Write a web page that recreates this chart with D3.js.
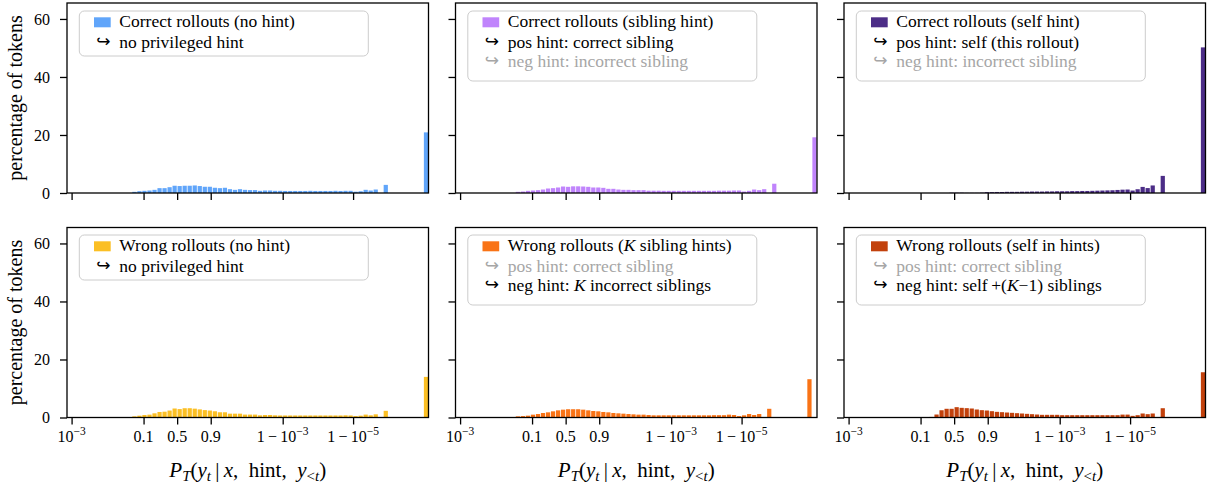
<!DOCTYPE html>
<html>
<head>
<meta charset="utf-8">
<script src="https://cdn.jsdelivr.net/npm/d3@7"></script>
<style>
  body { margin: 0; background: #fff; }
  text, tspan { font-family: "Liberation Serif", "Times New Roman", serif; }
</style>
</head>
<body>
<div id="chart"></div>
<script>
// histogram bins are uniform in logit10(p): first edge at -3, width 1/7
var binStart = -3;
var binWidth = 1 / 7;

// percentage of tokens per bin (71 bins)
var correctNoHint = [0,0,0,0,0,0,0,0,0,0,0,0,
  0.4,0.63,0.75,0.86,1.09,1.67,1.67,2.0,2.5,2.4,2.5,2.5,2.6,2.4,2.15,2.15,1.8,1.67,1.8,1.32,1.09,1.32,1.09,1.0,1.0,
  0.75,0.86,0.86,0.75,0.75,0.7,0.7,0.7,0.7,0.7,0.75,0.7,0.7,0.7,0.7,0.75,0.7,0.75,0.75,
  0.45,0.6,1.1,0.85,1.2,0,2.8,0,0,0,0,0,0,0,20.9];
var correctSiblingHint = [0,0,0,0,0,0,0,0,0,0,0,
  0.4,0.5,0.75,0.86,0.98,1.2,1.55,1.67,1.9,2.24,2.13,2.3,2.3,2.24,2.13,1.9,1.9,1.78,1.44,1.44,1.2,1.09,1.09,0.98,0.98,0.98,
  0.8,0.8,0.8,0.75,0.75,0.75,0.75,0.75,0.75,0.75,0.75,0.75,0.75,0.75,0.8,0.8,0.8,0.86,0.86,
  0.5,0.75,1.2,0.98,1.32,0,3.2,0,0,0,0,0,0,0,19.2];
var correctSelfHint = [0,0,0,0,0,0,0,0,0,0,0,0,0,0,0,0,0,0,0,0,
  0.1,0.1,0.1,0.05,0.05,0.05,0.1,0.3,0.3,0.35,0.35,0.4,0.4,0.4,0.45,0.45,0.5,0.5,0.5,0.55,0.55,
  0.6,0.6,0.6,0.65,0.65,0.7,0.7,0.75,0.8,0.85,0.9,0.95,1.05,1.15,1.2,
  0.85,1.3,2.1,1.7,2.6,0,5.9,0,0,0,0,0,0,0,50.2];
var wrongNoHint = [0,0,0,0,0,0,0,0,0,0,0,0,
  0.4,0.63,0.86,0.98,1.44,1.9,2.0,2.4,3.1,2.9,3.2,3.2,3.05,2.8,2.55,2.4,2.15,1.8,1.8,1.32,1.32,1.32,1.0,1.0,1.0,
  0.75,0.86,0.86,0.75,0.7,0.7,0.7,0.7,0.7,0.7,0.7,0.7,0.7,0.7,0.7,0.7,0.7,0.75,0.7,
  0.5,0.63,1.0,0.75,1.1,0,2.3,0,0,0,0,0,0,0,14.0];
var wrongSiblingHints = [0,0,0,0,0,0,0,0,0,0,0,
  0.4,0.5,0.63,0.98,1.2,1.55,1.78,2.13,2.47,2.7,2.85,2.85,2.85,2.7,2.47,2.24,2.13,1.9,1.78,1.55,1.44,1.32,1.2,1.09,0.98,0.98,
  0.86,0.75,0.75,0.75,0.75,0.75,0.75,0.75,0.75,0.75,0.75,0.75,0.75,0.8,0.8,0.8,0.98,0.86,
  0.5,0.75,1.2,0.86,1.2,0,3.0,0,0,0,0,0,0,0,13.2];
var wrongSelfInHints = [0,0,0,0,0,0,0,0,0,0,0,0,0,0,0,0,
  0.2,1.03,2.5,3.0,3.0,3.56,3.33,3.22,3.1,2.76,2.53,2.41,2.18,1.95,1.84,1.72,1.61,1.49,1.38,1.26,1.15,1.03,
  0.92,0.92,0.92,0.92,0.8,0.8,0.8,0.8,0.8,0.8,0.8,0.8,0.8,0.8,0.8,0.8,1.0,1.0,
  0.57,0.8,1.38,1.15,1.38,0,3.2,0,0,0,0,0,0,0,15.6];

var seriesValues = [correctNoHint, correctSiblingHint, correctSelfHint,
                    wrongNoHint, wrongSiblingHints, wrongSelfInHints];
var seriesColors = ["#60a5fa", "#c084fc", "#4c2d87", "#fbbf24", "#f97316", "#c2410c"];
var legendTitles = [
  "Correct rollouts (no hint)", "Correct rollouts (sibling hint)", "Correct rollouts (self hint)",
  "Wrong rollouts (no hint)", "Wrong rollouts ($K$ sibling hints)", "Wrong rollouts (self in hints)"
];
// [text, active]; inactive hints are drawn in grey
var legendHints = [
  [["no privileged hint", true]],
  [["pos hint: correct sibling", true], ["neg hint: incorrect sibling", false]],
  [["pos hint: self (this rollout)", true], ["neg hint: incorrect sibling", false]],
  [["no privileged hint", true]],
  [["pos hint: correct sibling", false], ["neg hint: $K$ incorrect siblings", true]],
  [["pos hint: correct sibling", false], ["neg hint: self\u2009+($K$\u22121) siblings", true]]
];

var yTicks = [0, 20, 40, 60];
var xTickProbs = [1e-3, 0.1, 0.5, 0.9, 1 - 1e-3, 1 - 1e-5];
var xTickLabels = [["10", "\u22123"], ["0.1", ""], ["0.5", ""], ["0.9", ""],
                   ["1\u2009\u2212\u200910", "\u22123"], ["1\u2009\u2212\u200910", "\u22125"]];

var width = 1207, height = 486;
var panelW = 361.5, panelH = 190;
var panelLefts = [67, 455.5, 844];
var panelTops = [3, 227.5];
var serif = "Liberation Serif, Times New Roman, serif";

var svg = d3.select("#chart").append("svg")
  .attr("width", width).attr("height", height);

var x = d3.scaleLinear().domain([-3.13, 7.143]).range([0, panelW]);
var y = d3.scaleLinear().domain([0, 65.5]).range([panelH, 0]);

function logit(p) { return Math.log10(p / (1 - p)); }

function addRich(textSel, str, size) {
  // $...$ parts are set in italics
  str.split("$").forEach(function (part, i) {
    if (!part) return;
    textSel.append("tspan").text(part)
      .attr("font-family", serif)
      .attr("font-style", i % 2 ? "italic" : null)
      .attr("font-size", size);
  });
}

seriesValues.forEach(function (values, idx) {
  var row = Math.floor(idx / 3), col = idx % 3;
  var g = svg.append("g")
    .attr("transform", "translate(" + panelLefts[col] + "," + panelTops[row] + ")");

  var clipId = "clip" + idx;
  g.append("clipPath").attr("id", clipId).append("rect")
    .attr("width", panelW).attr("height", panelH);

  var bw = x(binWidth) - x(0);
  g.append("g").attr("clip-path", "url(#" + clipId + ")")
    .selectAll("rect").data(values).enter().append("rect")
    .attr("x", function (d, k) { return x(binStart + k * binWidth) + 0.4; })
    .attr("width", bw - 0.8)
    .attr("y", function (d) { return y(d); })
    .attr("height", function (d) { return panelH - y(d); })
    .attr("fill", seriesColors[idx]);

  // axes
  var yAxis = g.append("g").call(d3.axisLeft(y).tickValues(yTicks).tickSize(7).tickPadding(10)
    .tickFormat(col === 0 ? d3.format("d") : ""));
  var xAxis = g.append("g").attr("transform", "translate(0," + panelH + ")")
    .call(d3.axisBottom(x).tickValues(xTickProbs.map(logit)).tickSize(7).tickFormat(""));
  [yAxis, xAxis].forEach(function (a) {
    a.attr("font-family", serif);
    a.select(".domain").remove();
    a.selectAll(".tick line").attr("stroke", "#000").attr("stroke-width", 1.3);
    a.selectAll(".tick text").attr("font-size", 16).attr("fill", "#000");
  });

  g.append("rect").attr("width", panelW).attr("height", panelH)
    .attr("fill", "none").attr("stroke", "#000").attr("stroke-width", 1.3);

  if (row === 1) {
    xTickProbs.forEach(function (p, i) {
      var t = g.append("text").attr("x", x(logit(p))).attr("y", panelH + 24)
        .attr("text-anchor", "middle").attr("font-size", 16).attr("font-family", serif);
      t.append("tspan").text(xTickLabels[i][0]);
      if (xTickLabels[i][1]) {
        t.append("tspan").text(xTickLabels[i][1]).attr("font-size", 11.5).attr("dy", -7);
      }
    });
    // x label: P_T(y_t | x, hint, y_<t)
    var xl = g.append("text").attr("x", panelW / 2).attr("y", panelH + 59)
      .attr("text-anchor", "middle").attr("font-size", 21).attr("font-family", serif);
    var parts = [["P", "i", 0], ["T", "i", 1], ["(", "", 0], ["y", "i", 0], ["t", "i", 1],
                 ["\u2009|\u2009", "", 0], ["x", "i", 0], [",\u2002hint,\u2002", "", 0], ["y", "i", 0],
                 ["<", "", 1], ["t", "i", 1], [")", "", 0]];
    var prevSub = 0;
    parts.forEach(function (pt) {
      var ts = xl.append("tspan").text(pt[0])
        .attr("font-style", pt[1] ? "italic" : null)
        .attr("font-size", pt[2] ? 15 : 21);
      if (pt[2] !== prevSub) ts.attr("dy", pt[2] ? 4.5 : -4.5);
      prevSub = pt[2];
    });
  }

  if (col === 0) {
    g.append("text")
      .attr("transform", "translate(-52," + panelH / 2 + ") rotate(-90)")
      .attr("text-anchor", "middle").attr("dominant-baseline", "central")
      .attr("font-size", 20).attr("font-family", serif).text("percentage of tokens");
  }

  // legend
  var hints = legendHints[idx];
  var lx = 12.3, ly = row === 0 ? 8 : 7.5;
  var lg = g.append("g").attr("transform", "translate(" + lx + "," + ly + ")");
  lg.append("rect").attr("width", 289).attr("height", hints.length === 1 ? 45 : 70)
    .attr("rx", 5).attr("fill", "#fff").attr("fill-opacity", 0.8)
    .attr("stroke", "#cccccc").attr("stroke-width", 1);
  lg.append("rect").attr("x", 14.7).attr("y", 6.3).attr("width", 16.7).attr("height", 10)
    .attr("fill", seriesColors[idx]);
  var baselines = [16.3, 37, 56];
  addRich(lg.append("text").attr("x", 40).attr("y", baselines[0]), legendTitles[idx], 17.5);
  hints.forEach(function (h, i) {
    var c = h[1] ? "#000" : "#a6a6a6";
    lg.append("text").attr("x", 17).attr("y", baselines[i + 1] - 1)
      .attr("font-size", 17).attr("fill", c)
      .style("font-family", "DejaVu Sans, sans-serif").text("\u21aa");
    addRich(lg.append("text").attr("x", 40).attr("y", baselines[i + 1]).attr("fill", c), h[0], 17.5);
  });
});
</script>
</body>
</html>
